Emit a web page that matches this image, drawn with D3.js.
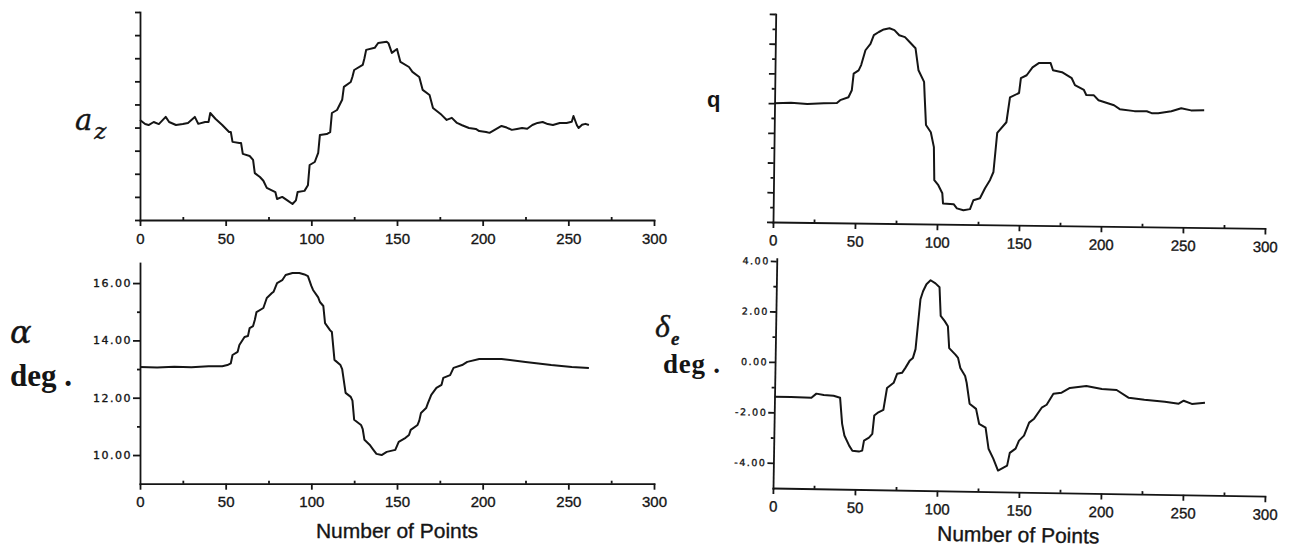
<!DOCTYPE html>
<html>
<head>
<meta charset="utf-8">
<script src="https://cdn.jsdelivr.net/npm/d3@7"></script>
<style>
  body { margin: 0; background: #fff; }
  svg { display: block; }
  .curve { fill: none; stroke: #151515; stroke-width: 2; stroke-linejoin: round; }
  .axis path, .axis line { stroke: #151515; stroke-width: 1.8; }
  .axis path { stroke-linecap: square; }
  .heavy { stroke: #151515; stroke-width: 0.35; }
</style>
</head>
<body>
<svg width="1290" height="550"></svg>
<script>
// x axis (shared by the four panels)
const xTicks = [0, 50, 100, 150, 200, 250, 300];
const xMinor = [25, 75, 125, 175, 225, 275];

// a_z (no scale printed on the figure, tick units)
const azTicks = [0, 1, 2, 3, 4, 5, 6, 7, 8, 9];
const azData = [[0,4.33],[3,4.15],[5,4.11],[8,4.24],[11,4.15],[15,4.46],[17,4.24],[21,4.11],[25,4.15],[28,4.2],
  [32,4.46],[34,4.16],[38,4.24],[40,4.24],[41,4.63],[44,4.38],[48,4.11],[52,3.81],[53,3.81],[54,3.38],[58,3.33],
  [59,3.33],[60,2.86],[64,2.77],[66,2.6],[67,2.03],[70,1.86],[72,1.7],[74,1.39],[79,1.21],[80,0.91],[83,1.0],
  [86,0.85],[89,0.69],[91,0.85],[92,1.21],[96,1.26],[98,1.5],[99,2.38],[102,2.51],[104,2.9],[105,3.68],[109,3.72],
  [111,3.8],[112,4.63],[115,4.76],[118,5.2],[119,5.76],[123,5.97],[124,6.2],[125,6.49],[130,6.71],[131,7.0],
  [132,7.36],[137,7.45],[139,7.66],[144,7.71],[145,7.65],[147,7.23],[150,7.4],[152,6.84],[157,6.62],[159,6.41],
  [163,6.19],[165,5.63],[169,5.41],[171,4.85],[176,4.55],[179,4.33],[182,4.42],[185,4.2],[188,4.1],[192,3.98],
  [196,3.94],[198,3.85],[202,3.81],[204,3.77],[207,3.9],[211,4.07],[214,4.0],[217,3.9],[220,3.94],[223,3.98],
  [226,3.95],[229,4.11],[232,4.2],[235,4.24],[238,4.15],[241,4.11],[245,4.2],[249,4.2],[252,4.25],[253,4.5],
  [255,4.1],[256,3.98],[258,4.12],[260,4.16],[262,4.11]];

// alpha, deg.
const alphaTicks = [10, 12, 14, 16];
const alphaMinor = [11, 13, 15];
const alphaData = [[0,13.07],[10,13.05],[20,13.08],[30,13.06],[40,13.1],[48,13.1],[51,13.14],[53,13.2],[54,13.49],
  [57,13.6],[58,13.84],[61,14.12],[63,14.15],[64,14.43],[66,14.5],[67,14.71],[68,14.99],[72,15.13],[74,15.48],
  [77,15.65],[78,15.7],[80,16.0],[83,16.1],[85,16.28],[89,16.35],[93,16.35],[96,16.3],[98,16.24],[100,15.9],
  [101,15.76],[104,15.5],[105,15.34],[107,15.2],[108,14.6],[111,14.35],[112,14.29],[113.5,13.32],[117,13.14],
  [118,13.0],[120,12.17],[123,12.03],[124,11.9],[125,11.23],[129,11.05],[130,10.9],[131,10.53],[134,10.36],
  [136,10.2],[138,10.04],[141,10.0],[144,10.11],[149,10.18],[151,10.46],[155,10.6],[157,10.7],[158,10.88],
  [162,11.05],[163,11.2],[164,11.47],[167,11.64],[168,11.8],[170,12.1],[173,12.34],[176,12.45],[177,12.69],
  [181,12.79],[183,13.04],[188,13.14],[191,13.25],[198,13.35],[211,13.35],[225,13.25],[240,13.14],[252,13.07],
  [262,13.04]];

// q (no scale printed)
const qTicks = [-4, -3, -2, -1, 0, 1, 2, 3];
const qMinor = [-3.5, -2.5, -1.5, -0.5, 0.5, 1.5, 2.5];
const qData = [[0,0],[10,0.02],[20,-0.01],[30,0.02],[38,0.03],[40,0.13],[45,0.23],[47,0.47],[48,1.03],[51,1.14],
  [52.5,1.32],[55,1.82],[58,2.04],[60,2.33],[63,2.44],[66,2.53],[69.5,2.57],[72.5,2.51],[75.5,2.34],[79,2.28],
  [82,2.11],[85.5,1.91],[87.5,1.17],[91,0.78],[91.5,0.27],[92.5,-0.67],[95.5,-0.91],[97.5,-1.41],[98,-2.52],
  [100.5,-2.69],[103,-2.96],[103.5,-3.3],[110,-3.32],[112,-3.46],[116,-3.52],[120,-3.48],[122,-3.18],[126,-3.11],
  [129,-2.77],[132,-2.49],[134,-2.22],[136,-0.9],[141.5,-0.54],[143.5,0.3],[149,0.45],[150,0.95],[153.5,1.05],
  [157,1.32],[161,1.47],[168,1.47],[169.5,1.23],[175,1.17],[181,0.97],[183,0.74],[188.5,0.58],[190,0.41],
  [194.5,0.41],[197.5,0.24],[207,0.08],[210.5,-0.05],[219.5,-0.11],[227,-0.11],[230,-0.17],[234,-0.17],
  [242,-0.1],[248,0.01],[254,-0.06],[262,-0.05]];

// delta_e, deg.
const deTicks = [-4, -2, 0, 2, 4];
const deMinor = [-3, -1, 1, 3];
const deData = [[0,-1.38],[10,-1.38],[22.5,-1.4],[25.5,-1.23],[30,-1.28],[36,-1.3],[40,-1.38],[41.5,-2.41],
  [43,-2.87],[46,-3.27],[48,-3.47],[52,-3.5],[54,-3.46],[55,-3.06],[58,-2.94],[60,-2.79],[61,-2.06],[63.5,-1.93],
  [66.5,-1.83],[68.5,-0.96],[72.5,-0.75],[74.5,-0.39],[77.5,-0.35],[79.5,-0.15],[82,0.13],[84,0.25],[85.5,0.6],
  [88,2.58],[89.5,2.9],[91.5,3.18],[94,3.34],[97,3.22],[99.5,3.07],[100.5,1.93],[103,1.73],[105,1.53],[106,0.66],
  [110,0.4],[111.5,0.28],[113,-0.12],[116,-0.43],[117,-0.7],[119,-1.53],[123,-1.73],[125,-2.32],[129,-2.47],
  [131,-3.3],[134,-3.69],[137,-4.16],[142.5,-3.96],[144,-3.45],[147.5,-3.28],[149.5,-2.96],[152.5,-2.76],
  [155.5,-2.24],[158.5,-2.08],[163,-1.64],[166,-1.52],[170,-1.08],[175,-1.03],[180,-0.84],[190,-0.75],
  [199.5,-0.86],[208.5,-0.89],[216,-1.19],[225.5,-1.26],[238,-1.32],[246.5,-1.39],[249.5,-1.27],[254.5,-1.39],
  [262.5,-1.34]];

const svg = d3.select('svg');
const ink = '#151515';
const sans = '"Liberation Sans", Arial, sans-serif';

// draws one panel: axes, minor ticks and the curve
function panel(o) {
  const g = svg.append('g').style('color', ink);
  if (o.rot) g.attr('transform', `rotate(${o.rot},${o.x0},${o.y0})`); // scan is slightly skewed on the right
  const x = d3.scaleLinear().domain([0, 300]).range([o.x0, o.x1]);
  const y = d3.scaleLinear().domain(o.yDom).range([o.y0, o.yTop]);

  const xa = g.append('g').attr('class', 'axis').attr('transform', `translate(0,${o.y0})`)
    .call(d3.axisBottom(x).tickValues(xTicks).tickSize(6).tickSizeOuter(0).tickPadding(7));
  xa.selectAll('text').attr('class', 'heavy').attr('font-family', sans).attr('font-size', 15);

  g.append('g').attr('class', 'axis').attr('transform', `translate(0,${o.y0})`)
    .call(d3.axisBottom(x).tickValues(xMinor).tickSize(-3).tickFormat(''))
    .call(a => a.select('.domain').remove());

  const ya = g.append('g').attr('class', 'axis').attr('transform', `translate(${o.x0},0)`)
    .call(d3.axisLeft(y).tickValues(o.yMajor).tickSize(o.tick).tickSizeOuter(0).tickPadding(1)
      .tickFormat(o.labels ? d => d.toFixed(2) : ''));
  ya.selectAll('text').attr('class', 'heavy').attr('font-family', '"DejaVu Sans", sans-serif')
    .attr('font-size', o.labelSize).attr('letter-spacing', o.labelSpace);

  if (o.yMinor) {
    g.append('g').attr('class', 'axis').attr('transform', `translate(${o.x0},0)`)
      .call(d3.axisLeft(y).tickValues(o.yMinor).tickSize(3).tickFormat(''))
      .call(a => a.select('.domain').remove());
  }

  g.append('path').datum(o.data).attr('class', 'curve')
    .attr('d', d3.line().x(d => x(d[0])).y(d => y(d[1])));

  if (o.xTitle) {
    g.append('text').attr('class', 'heavy').attr('x', x(150)).attr('y', o.y0 + o.titleGap)
      .attr('text-anchor', 'middle').attr('font-family', sans).attr('font-size', 21)
      .attr('fill', ink).text(o.xTitle);
  }
  return g;
}

panel({x0: 140, x1: 654, y0: 220, yTop: 12, yDom: [0, 9], yMajor: azTicks, tick: 5, data: azData});
panel({x0: 140, x1: 654, y0: 483.7, yTop: 263, yDom: [9, 16.7], yMajor: alphaTicks, yMinor: alphaMinor,
  tick: 7, labels: true, labelSize: 11, labelSpace: 1.5, data: alphaData,
  xTitle: 'Number of Points', titleGap: 54});
panel({x0: 773, x1: 1265, y0: 222, yTop: 14, yDom: [-4, 3], yMajor: qTicks, yMinor: qMinor, tick: 6,
  data: qData, rot: 0.75});
panel({x0: 773, x1: 1265, y0: 488, yTop: 258.5, yDom: [-5, 4.1], yMajor: deTicks, yMinor: deMinor, tick: 6,
  labels: true, labelSize: 9.5, labelSpace: 1.5, data: deData, rot: 0.95,
  xTitle: 'Number of Points', titleGap: 50});

// y-axis symbols
const serifI = '"DejaVu Serif", serif';
const times = '"Liberation Serif", "Times New Roman", serif';

svg.append('text').attr('class', 'heavy').attr('x', 75).attr('y', 130).attr('font-family', serifI)
  .attr('font-style', 'italic').attr('font-size', 29).attr('fill', ink).text('a')
  .append('tspan').attr('dx', 2).attr('dy', 9).attr('font-size', 23).text('z');

svg.append('text').attr('class', 'heavy').attr('x', 10).attr('y', 343).attr('font-family', serifI)
  .attr('font-style', 'italic').attr('font-size', 32).attr('fill', ink).text('α');
svg.append('text').attr('x', 10).attr('y', 386).attr('font-family', times).attr('font-weight', 'bold')
  .attr('font-size', 31).attr('textLength', 62).attr('fill', ink).text('deg .');

svg.append('text').attr('x', 707).attr('y', 107).attr('font-family', sans)
  .attr('font-weight', 'bold').attr('font-size', 22).attr('fill', ink).text('q');

svg.append('text').attr('class', 'heavy').attr('x', 655).attr('y', 337).attr('font-family', times)
  .attr('font-style', 'italic').attr('font-size', 32).attr('fill', ink).text('δ')
  .append('tspan').attr('dx', 1).attr('dy', 8).attr('font-size', 19).attr('font-weight', 'bold').text('e');
svg.append('text').attr('x', 663).attr('y', 373).attr('font-family', times).attr('font-weight', 'bold')
  .attr('font-size', 27).attr('textLength', 57).attr('fill', ink).text('deg .');
</script>
</body>
</html>
